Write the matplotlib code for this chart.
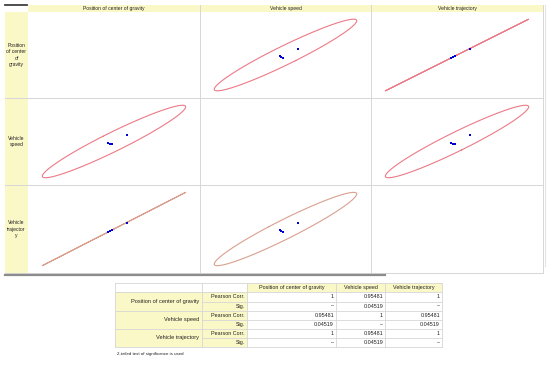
import numpy as np
import matplotlib
matplotlib.use("Agg")
import matplotlib.pyplot as plt
from matplotlib.patches import Rectangle

plt.rcParams['font.family'] = ['Liberation Sans', 'DejaVu Sans']

# variables of the scatter matrix
variables = ['Position of center of gravity', 'Vehicle speed', 'Vehicle trajectory']
row_labels = ['Position\nof center\nof\ngravity', 'Vehicle\nspeed', 'Vehicle\ntrajector\ny']

# observations (n = 4)
position = [2.0, 2.1, 2.2, 3.0]
speed = [5.12, 5.05, 4.98, 6.0]
trajectory = [4.0, 4.2, 4.4, 6.0]

# correlation table
pearson = [['1', '0.95481', '1'],
           ['0.95481', '1', '0.95481'],
           ['1', '0.95481', '1']]
sig = [['–', '0.04519', '–'],
       ['0.04519', '–', '0.04519'],
       ['–', '0.04519', '–']]
footnote = '2-tailed test of significance is used'

F_95 = 19.0  # F(2, 2) 95% quantile, used for the prediction ellipse

yellow = '#faf8c6'
grid = '#d6d6d6'


def pred_ellipse(x, y, f=F_95, npts=300):
    x = np.asarray(x, float)
    y = np.asarray(y, float)
    n = len(x)
    vals, vecs = np.linalg.eigh(np.cov(x, y))
    vals = np.clip(vals, 0, None)
    c = np.sqrt(2 * (n - 1) * (n + 1) / (n * (n - 2)) * f)
    t = np.linspace(0, 2 * np.pi, npts)
    circ = np.vstack([np.cos(t), np.sin(t)])
    pts = vecs @ (np.sqrt(vals)[:, None] * circ) * c
    return x.mean() + pts[0], y.mean() + pts[1]


fig = plt.figure(figsize=(5.5, 3.68), dpi=100)
bg = fig.add_axes([0, 0, 1, 1])
bg.set_xlim(0, 550)
bg.set_ylim(368, 0)
bg.axis('off')

# ---- scatter matrix frame
col_edges = [28, 200, 371, 543]
row_edges = [12, 98, 185, 273]
bg.add_patch(Rectangle((28, 5), 515, 7, color=yellow, lw=0))
bg.add_patch(Rectangle((5, 12), 23, 261, color=yellow, lw=0))
for xe in col_edges[1:]:
    bg.plot([xe, xe], [5, 273], color=grid, lw=0.7)
for ye in row_edges[1:]:
    bg.plot([5, 543], [ye, ye], color=grid, lw=0.7)
bg.plot([5, 27], [5, 5], color='#404040', lw=1.3)
bg.plot([5, 385], [274.5, 274.5], color='#8c8c8c', lw=1.6)
bg.plot([545, 545], [5, 266], color='#e4e4e4', lw=0.8)

for j, name in enumerate(variables):
    bg.text((col_edges[j] + col_edges[j + 1]) / 2, 8.7, name,
            ha='center', va='center', fontsize=3.6, color='#222222')
for i, lab in enumerate(row_labels):
    bg.text(16.5, (row_edges[i] + row_edges[i + 1]) / 2, lab, ha='center',
            va='center', fontsize=3.6, color='#222222', linespacing=1.35)

data = [position, speed, trajectory]
for i in range(3):
    for j in range(3):
        if i == j:
            continue
        x0, x1 = col_edges[j], col_edges[j + 1]
        y0, y1 = row_edges[i], row_edges[i + 1]
        ax = fig.add_axes([x0 / 550, 1 - y1 / 368, (x1 - x0) / 550, (y1 - y0) / 368])
        ax.axis('off')
        ex, ey = pred_ellipse(data[j], data[i])
        col = '#d9a08f' if i == 2 else '#ec7a86'
        ax.plot(ex, ey, color=col, lw=0.8)
        ax.plot(data[j], data[i], 's', color='#0000d0', ms=1.6, mew=0)
        mx = 0.1 * (ex.max() - ex.min())
        my = 0.1 * (ey.max() - ey.min())
        ax.set_xlim(ex.min() - mx, ex.max() + mx)
        ax.set_ylim(ey.min() - my, ey.max() + my)

# ---- correlation table
tx = [115, 202, 247, 336, 385, 442]
groups = [(292, 311), (311, 329), (329, 347)]
fs = 3.9

bg.add_patch(Rectangle((247, 283), 195, 9, color=yellow, lw=0))
bg.add_patch(Rectangle((115, 292), 132, 55, color=yellow, lw=0))
for xe in tx:
    bg.plot([xe, xe], [283, 347], color=grid, lw=0.6)
bg.plot([115, 442], [283, 283], color=grid, lw=0.6)
for g0, g1 in groups:
    bg.plot([115, 442], [g0, g0], color=grid, lw=0.6)
    bg.plot([202, 442], [(g0 + g1) / 2] * 2, color=grid, lw=0.6)
bg.plot([115, 442], [347, 347], color=grid, lw=0.6)

for j, name in enumerate(variables):
    bg.text((tx[j + 2] + tx[j + 3]) / 2, 287.7, name, ha='center', va='center',
            fontsize=fs, color='#222222')
for i, name in enumerate(variables):
    g0, g1 = groups[i]
    gm = (g0 + g1) / 2
    bg.text(199, gm, name, ha='right', va='center', fontsize=fs + 0.2, color='#222222')
    bg.text(245, (g0 + gm) / 2, 'Pearson Corr.', ha='right', va='center',
            fontsize=fs, color='#222222')
    bg.text(245, (gm + g1) / 2, 'Sig.', ha='right', va='center',
            fontsize=fs, color='#222222')
    for j in range(3):
        bg.text(tx[j + 3] - 2, (g0 + gm) / 2, pearson[i][j], ha='right',
                va='center', fontsize=fs, color='#222222')
        bg.text(tx[j + 3] - 2, (gm + g1) / 2, sig[i][j], ha='right',
                va='center', fontsize=fs, color='#222222')
bg.text(117, 354, footnote, ha='left', va='center', fontsize=3.2, color='#222222')

fig.savefig('out.png', dpi=100)
